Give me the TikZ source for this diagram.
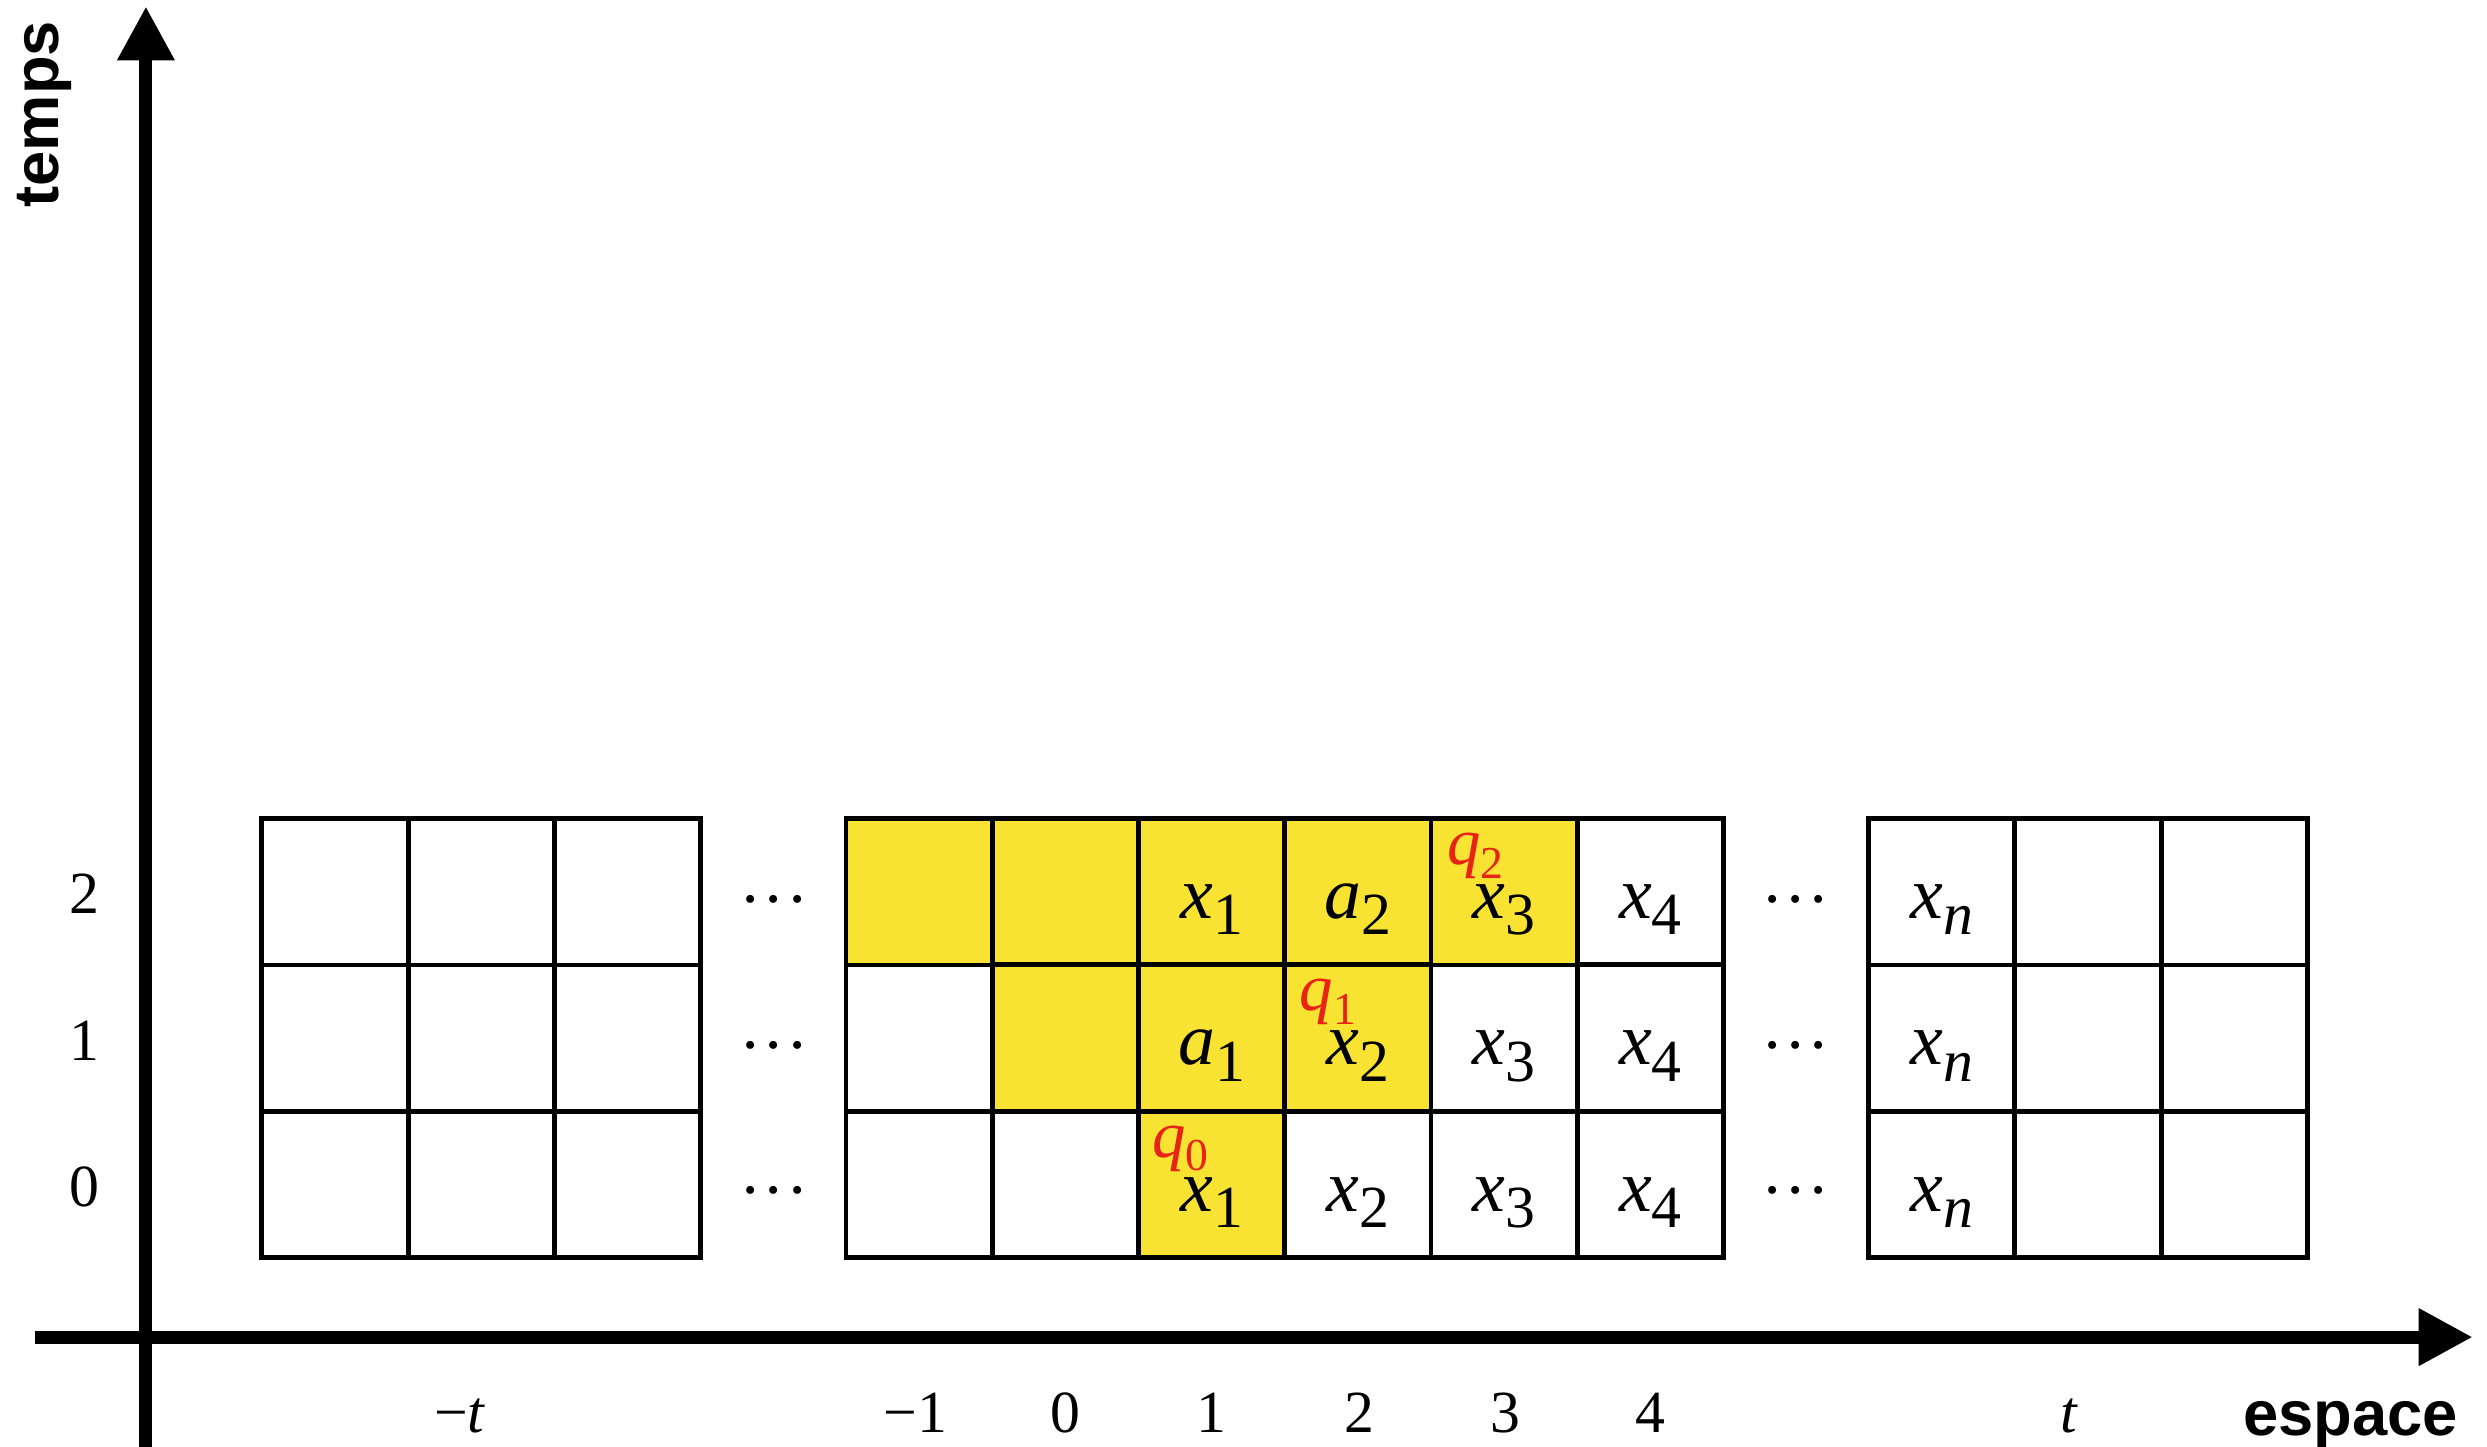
\documentclass[tikz,border=0pt]{standalone}
\usepackage{fontspec}
\setmainfont{Liberation Serif}
\newfontfamily\hvfont{Liberation Sans}
\usetikzlibrary{arrows.meta}
\definecolor{cellyellow}{RGB}{248,226,50}
\definecolor{qred}{RGB}{232,35,22}
\newcommand\cv[2]{\fontsize{21}{21}\selectfont\textit{#1}\raisebox{-4.7pt}{\fontsize{17}{17}\selectfont #2}}
\newcommand\qv[1]{\fontsize{19}{19}\selectfont\textit{q}\raisebox{-3.9pt}{\fontsize{13}{13}\selectfont #1}}
\newcommand\mydots{·\kern0.3pt·\kern0.3pt·}
\tikzset{
  cellbox/.style={draw=black, line width=1.35pt, minimum width=1.4623cm, minimum height=1.4639cm, inner sep=0pt, outer sep=0pt, fill=white},
  yellowcell/.style={cellbox, fill=cellyellow},
  axisline/.style={line width=3.7pt, -{Triangle[length=0.54cm, width=0.54cm]}},
  lab/.style={anchor=base, inner sep=0pt},
  qlab/.style={anchor=base west, inner sep=0pt, text=qred},
  numlab/.style={anchor=base, inner sep=0pt, font=\fontsize{17}{17}\selectfont},
  dotlab/.style={anchor=base, inner sep=0pt, font=\fontsize{19}{19}\selectfont},
  axlab/.style={inner sep=0pt, font=\hvfont\bfseries\fontsize{18}{18}\selectfont}
}
\begin{document}
\begin{tikzpicture}[x=0.01586cm, y=-0.01586cm]
\useasboundingbox (0,0) rectangle (1568,912);
% axes
\coordinate (vbot) at (92,912);
\coordinate (vtop) at (92,4);
\coordinate (hleft) at (22,843);
\coordinate (hright) at (1559,843);
\draw[axisline] (vbot) -- (vtop);
\draw[axisline] (hleft) -- (hright);
\node[axlab, rotate=90] (temps) at (28,72) {temps};
\node[axlab, anchor=base] (espace) at (1482,905) {espace};
% left grid
\foreach \r in {0,1,2} \foreach \c in {0,1,2}
  \node[cellbox] (L\r\c) at ({211.15+92.3*\c},{746.75-92.3*\r}) {};
% right grid
\foreach \r in {0,1,2} \foreach \c in {0,1,2}
  \node[cellbox] (R\r\c) at ({1224.15+92.3*\c},{746.75-92.3*\r}) {};
% middle grid
\foreach \r/\c in {2/5,1/0,1/4,1/5,0/0,0/1,0/3,0/4,0/5}
  \node[cellbox] (M\r\c) at ({579.5+92.2*\c},{746.75-92.3*\r}) {};
\foreach \r/\c in {2/0,2/1,2/2,2/3,2/4,1/1,1/2,1/3,0/2}
  \node[yellowcell] (M\r\c) at ({579.5+92.2*\c},{746.75-92.3*\r}) {};
% cell contents row 2
\node[lab] (t22) at (763.9,579.0) {\cv{x}{1}};
\node[lab] (t23) at (856.1,579.0) {\cv{a}{2}};
\node[lab] (t24) at (948.3,579.0) {\cv{x}{3}};
\node[lab] (t25) at (1040.5,579.0) {\cv{x}{4}};
\node[lab] (t2n) at (1224.15,579.0) {\cv{x}{\textit{n}}};
% row 1
\node[lab] (t12) at (763.9,671.3) {\cv{a}{1}};
\node[lab] (t13) at (856.1,671.3) {\cv{x}{2}};
\node[lab] (t14) at (948.3,671.3) {\cv{x}{3}};
\node[lab] (t15) at (1040.5,671.3) {\cv{x}{4}};
\node[lab] (t1n) at (1224.15,671.3) {\cv{x}{\textit{n}}};
% row 0
\node[lab] (t02) at (763.9,763.6) {\cv{x}{1}};
\node[lab] (t03) at (856.1,763.6) {\cv{x}{2}};
\node[lab] (t04) at (948.3,763.6) {\cv{x}{3}};
\node[lab] (t05) at (1040.5,763.6) {\cv{x}{4}};
\node[lab] (t0n) at (1224.15,763.6) {\cv{x}{\textit{n}}};
% states
\node[qlab] (q0) at (726,729.6) {\qv{0}};
\node[qlab] (q1) at (819,637.3) {\qv{1}};
\node[qlab] (q2) at (912,545) {\qv{2}};
% dots
\node[dotlab] (dl2) at (488,581) {\mydots};
\node[dotlab] (dl1) at (488,673) {\mydots};
\node[dotlab] (dl0) at (488,764.5) {\mydots};
\node[dotlab] (dr2) at (1132,581) {\mydots};
\node[dotlab] (dr1) at (1132,673) {\mydots};
\node[dotlab] (dr0) at (1132,764.5) {\mydots};
% row labels
\node[numlab] (r2) at (53,576) {2};
\node[numlab] (r1) at (53,668.3) {1};
\node[numlab] (r0) at (53,760.6) {0};
% column labels
\node[numlab] (cmt) at (290,903) {−\textit{t}};
\node[numlab] (cm1) at (577,903) {−1};
\node[numlab] (c0) at (671.7,903) {0};
\node[numlab] (c1) at (763.9,903) {1};
\node[numlab] (c2) at (857,903) {2};
\node[numlab] (c3) at (949,903) {3};
\node[numlab] (c4) at (1040.5,903) {4};
\node[numlab] (ct) at (1305,903) {\textit{t}};
\end{tikzpicture}
\end{document}
